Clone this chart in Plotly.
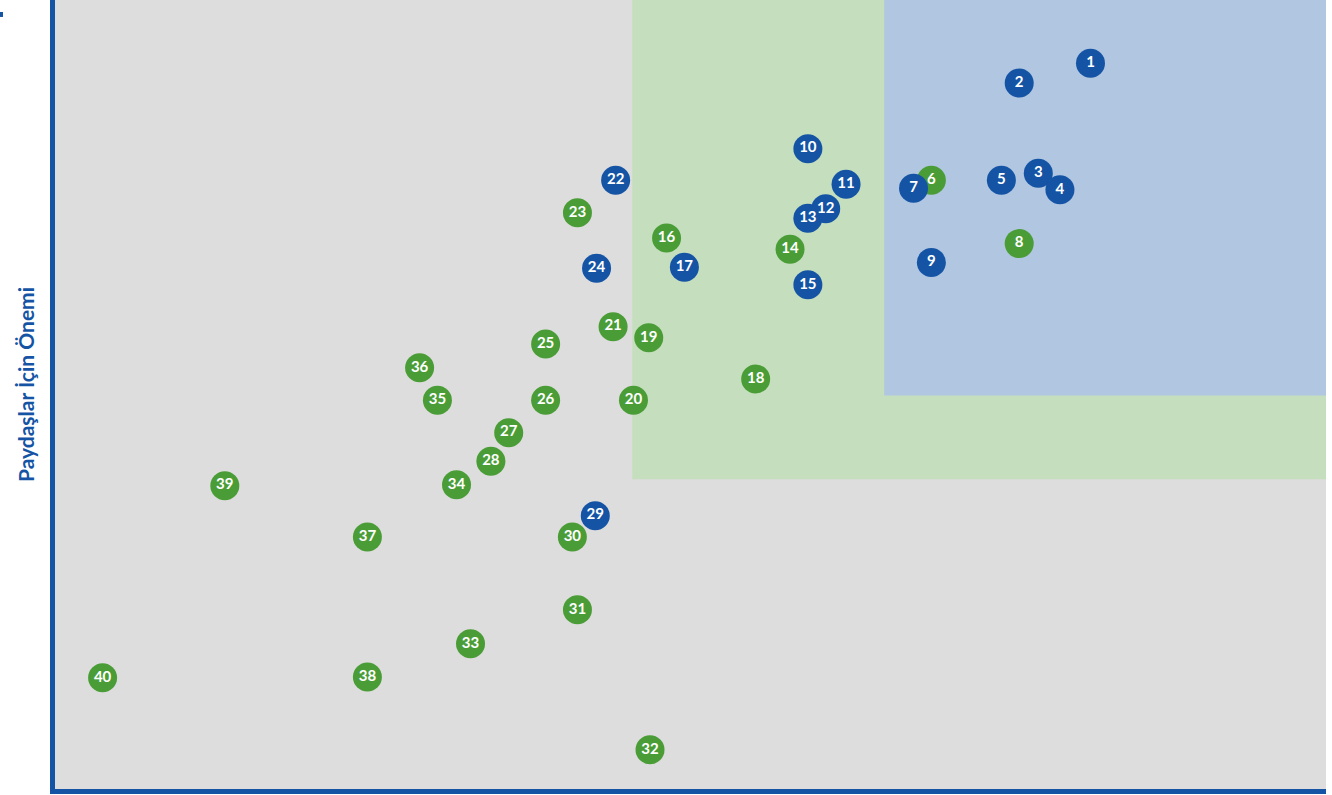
import plotly.graph_objects as go

# issue numbers and their position on the matrix (x = business impact, y = stakeholder importance)
labels = [str(i) for i in range(1, 41)]
x_vals = [81.5, 75.9, 77.4, 79.1, 74.5, 69.0, 67.6, 75.9, 69.0, 59.3,
          62.3, 60.7, 59.3, 57.9, 59.3, 48.2, 49.6, 55.2, 46.8, 45.6,
          44.0, 44.2, 41.2, 42.7, 38.7, 38.7, 35.8, 34.4, 42.6, 40.8,
          41.2, 46.9, 32.8, 31.7, 30.2, 28.8, 24.7, 24.7, 13.5, 3.9]
y_vals = [92.0, 89.5, 78.1, 76.0, 77.2, 77.2, 76.2, 69.2, 66.8, 81.2,
          76.7, 73.6, 72.4, 68.5, 64.0, 69.9, 66.2, 52.1, 57.3, 49.4,
          58.7, 77.2, 73.1, 66.1, 56.5, 49.4, 45.3, 41.7, 34.8, 32.1,
          22.9, 5.2, 18.6, 38.7, 49.4, 53.5, 32.1, 14.4, 38.6, 14.3]
groups = ["b", "b", "b", "b", "b", "g", "b", "g", "b", "b",
          "b", "b", "b", "g", "b", "g", "b", "g", "g", "g",
          "g", "b", "g", "b", "g", "g", "g", "g", "b", "g",
          "g", "g", "g", "g", "g", "g", "g", "g", "g", "g"]

BLUE = "#1554a5"
GREEN = "#4a9d36"
colors = [BLUE if g == "b" else GREEN for g in groups]

fig = go.Figure()

# priority zones
fig.add_shape(type="rect", x0=45.5, x1=100, y0=39.4, y1=100,
              fillcolor="#c5dfbe", line_width=0, layer="below")
fig.add_shape(type="rect", x0=65.3, x1=100, y0=50.0, y1=100,
              fillcolor="#b0c6e1", line_width=0, layer="below")

fig.add_trace(go.Scatter(
    x=x_vals, y=y_vals, text=labels,
    mode="markers+text",
    marker=dict(size=29, color=colors, line_width=0),
    textfont=dict(family="Lato", size=15, color="white", weight=700),
    textposition="middle center",
    hoverinfo="skip",
    showlegend=False,
))

fig.add_annotation(text="<b>Paydaşlar İçin Önemi</b>", textangle=-90,
                   xref="paper", yref="paper", x=-0.0236, y=0.512,
                   xanchor="center", yanchor="middle",
                   showarrow=False, font=dict(family="Lato", size=21, color=BLUE))

# little cut-off mark in the top-left corner
fig.add_shape(type="rect", xref="paper", yref="paper",
              x0=-0.0433, x1=-0.0409, y0=0.9785, y1=0.9848,
              fillcolor=BLUE, line_width=0)

fig.update_xaxes(range=[0.16, 100], showgrid=False, zeroline=False, showticklabels=False,
                 showline=True, linecolor=BLUE, linewidth=5, ticks="")
fig.update_yaxes(range=[0.25, 100], showgrid=False, zeroline=False, showticklabels=False,
                 showline=True, linecolor=BLUE, linewidth=5, ticks="")

fig.update_layout(
    width=1332, height=795,
    margin=dict(l=55, r=6, t=0, b=6),
    plot_bgcolor="#dddddd",
    paper_bgcolor="white",
)

fig.write_html("out.html", config={"displayModeBar": False},
               post_script="document.body.style.margin='0';")
